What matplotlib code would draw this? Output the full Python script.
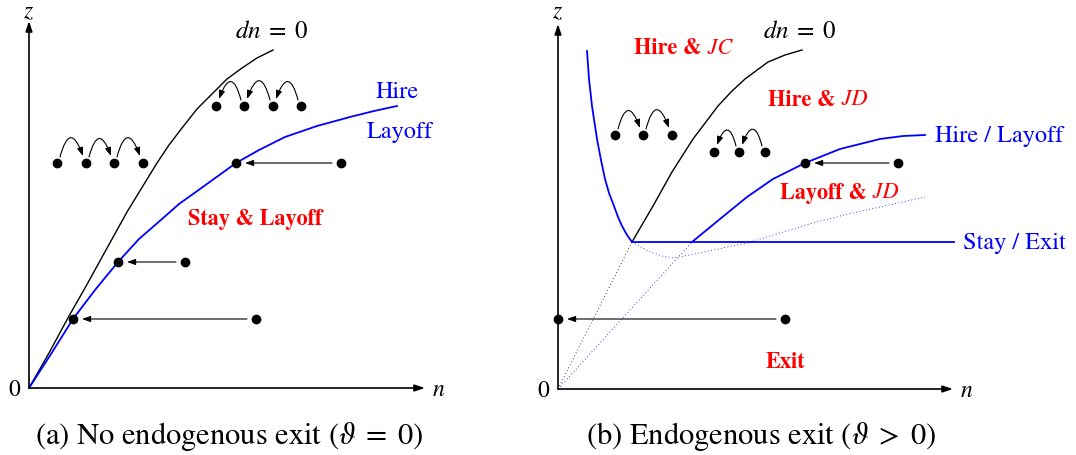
import matplotlib
matplotlib.use("Agg")
import matplotlib.pyplot as plt
from matplotlib.patches import FancyArrowPatch

plt.rcParams["font.family"] = ["STIXGeneral", "DejaVu Serif"]
plt.rcParams["mathtext.fontset"] = "stix"
plt.rcParams["lines.solid_joinstyle"] = "round"

# panel (a): no endogenous exit  (units: pixel-ish offsets from the origin)
a_dn_n = [0, 20, 40, 56, 72, 98, 128, 140, 153, 168, 184, 198, 213, 228, 244]
a_dn_z = [0, 35, 72, 100, 129, 176, 225, 243, 260, 279, 295, 309, 320, 330, 338]
a_hire_n = [0, 22, 44, 66, 89, 110, 133, 150, 171, 207, 230, 256, 288, 321, 345, 368]
a_hire_z = [0, 34, 69, 98, 126, 149, 169, 184, 199, 225, 238, 251, 262, 271, 277, 282]
a_hop_right_n = [28, 57, 85, 114]
a_hop_right_z = 225
a_hop_left_n = [187, 215, 244, 272]
a_hop_left_z = 282
a_move_from = [312, 156, 227]
a_move_to = [207, 89, 44]
a_move_z = [225, 126, 69]

# panel (b): endogenous exit
b_u_n = [29, 31, 34, 39, 43, 47, 51, 56, 60, 64, 69, 74]
b_u_z = [338, 310, 283, 250, 229, 210, 196, 183, 172, 163, 154, 147]
b_dn_n = [74, 95, 114, 135, 160, 173, 187, 210, 227, 244]
b_dn_z = [147, 183, 217, 250, 283, 297, 310, 327, 334, 339]
b_hl_n = [134, 162, 189, 215, 247, 282, 322, 345, 367]
b_hl_z = [147, 170, 192, 210, 226, 240, 250, 253, 254]
b_stay_n = [74, 396]
b_stay_z = [147, 147]
b_dot_n = [74, 90, 104, 115, 132, 160, 189, 222, 255, 290, 322, 367]
b_dot_z = [147, 138, 133, 131, 134, 140, 146, 156, 166, 175, 182, 192]
b_ray_black_n = [0, 74]
b_ray_black_z = [0, 147]
b_ray_blue_n = [0, 134]
b_ray_blue_z = [0, 147]
b_hop_right_n = [57, 85, 114]
b_hop_right_z = 254
b_hop_left_n = [156, 181, 207]
b_hop_left_z = 237
b_move_from = [340, 227]
b_move_to = [247, 0]
b_move_z = [226, 70]

BLUE = "#0000ff"
RED = "#ff0000"
FS_BLUE = 17.5
FS_RED = 16
FS_AX = 17

fig = plt.figure(figsize=(10.76, 4.56), dpi=100)
ax_a = fig.add_axes([0, 0, 540 / 1076, 1])
ax_b = fig.add_axes([540 / 1076, 0, 536 / 1076, 1])
ax_a.set_xlim(-29, 511)
ax_a.set_ylim(-67, 389)
ax_b.set_xlim(-18, 518)
ax_b.set_ylim(-66, 390)
for ax in (ax_a, ax_b):
    ax.set_axis_off()


def axes_arrows(ax, xend, yend, ztop):
    for end in [(xend, 0), (0, yend)]:
        ax.annotate("", xy=end, xytext=(0, 0),
                    arrowprops=dict(arrowstyle="-|>,head_length=0.6,head_width=0.2",
                                    lw=1.2, color="black", shrinkA=0, shrinkB=0,
                                    mutation_scale=10))
    ax.text(0, ztop, "$z$", fontsize=FS_AX, ha="center", va="top")
    ax.text(xend + 14, -1, "$n$", fontsize=FS_AX, ha="center", va="center")
    ax.text(-15, -1, "0", fontsize=FS_AX, ha="center", va="center")


def hops(ax, ns, z, leftward=False):
    ax.plot(ns, [z] * len(ns), "o", color="black", ms=6, zorder=5)
    for n0, n1 in zip(ns[:-1], ns[1:]):
        if leftward:
            start, end, rad = (n1 - 3, z + 6), (n0 + 3, z + 7), 1.6
        else:
            start, end, rad = (n0 + 3, z + 6), (n1 - 3, z + 7), -1.6
        ax.add_patch(FancyArrowPatch(start, end, connectionstyle=f"arc3,rad={rad}",
                                     arrowstyle="-|>,head_length=0.5,head_width=0.18",
                                     mutation_scale=10, lw=0.8, color="black",
                                     shrinkA=0, shrinkB=0))


def moves(ax, froms, tos, zs):
    for n0, n1, z in zip(froms, tos, zs):
        ax.plot([n0, n1], [z, z], "o", color="black", ms=6, zorder=5, clip_on=False)
        ax.annotate("", xy=(n1, z), xytext=(n0, z),
                    arrowprops=dict(arrowstyle="-|>,head_length=0.5,head_width=0.18",
                                    lw=0.8, color="black", shrinkA=6.5, shrinkB=6.5,
                                    mutation_scale=10))


def region(ax, x, y, bold, ital=None):
    t = ax.text(x, y, bold, fontsize=FS_RED, color=RED, fontweight="bold",
                ha="left", va="center")
    if ital:
        ax.annotate(" " + ital, xy=(1, 0.5), xycoords=t, fontsize=FS_RED, color=RED,
                    style="italic", ha="left", va="center")


# ---- panel (a)
axes_arrows(ax_a, 396, 367, 387)
ax_a.plot(a_dn_n, a_dn_z, color="black", lw=1.0)
ax_a.plot(a_hire_n, a_hire_z, color=BLUE, lw=1.3)
hops(ax_a, a_hop_right_n, a_hop_right_z)
hops(ax_a, a_hop_left_n, a_hop_left_z, leftward=True)
moves(ax_a, a_move_from, a_move_to, a_move_z)
ax_a.text(243, 357, r"$dn\;=\;0$", fontsize=18, ha="center", va="center")
ax_a.text(347, 297, "Hire", fontsize=FS_BLUE, color=BLUE, ha="left", va="center")
ax_a.text(338, 257, "Layoff", fontsize=FS_BLUE, color=BLUE, ha="left", va="center")
region(ax_a, 159, 170, "Stay & Layoff")

# ---- panel (b)
axes_arrows(ax_b, 395, 365, 388)
ax_b.plot(b_ray_black_n, b_ray_black_z, color="black", lw=0.6, ls=(0, (1, 3)))
ax_b.plot(b_ray_blue_n, b_ray_blue_z, color=BLUE, lw=0.6, ls=(0, (1, 3)))
ax_b.plot(b_dot_n, b_dot_z, color=BLUE, lw=0.6, ls=(0, (1, 3)))
ax_b.plot(b_u_n, b_u_z, color=BLUE, lw=1.3)
ax_b.plot(b_dn_n, b_dn_z, color="black", lw=1.0)
ax_b.plot(b_hl_n, b_hl_z, color=BLUE, lw=1.3)
ax_b.plot(b_stay_n, b_stay_z, color=BLUE, lw=1.3)
hops(ax_b, b_hop_right_n, b_hop_right_z)
hops(ax_b, b_hop_left_n, b_hop_left_z, leftward=True)
moves(ax_b, b_move_from, b_move_to, b_move_z)
ax_b.text(242, 358, r"$dn\;=\;0$", fontsize=18, ha="center", va="center")
region(ax_b, 76, 341, "Hire &", "JC")
region(ax_b, 210, 290, "Hire &", "JD")
region(ax_b, 222, 197, "Layoff &", "JD")
ax_b.text(227, 27, "Exit", fontsize=FS_RED, color=RED, fontweight="bold",
          ha="center", va="center")
ax_b.text(377, 254, "Hire / Layoff", fontsize=FS_BLUE, color=BLUE, ha="left", va="center")
ax_b.text(405, 147, "Stay / Exit", fontsize=FS_BLUE, color=BLUE, ha="left", va="center")

# ---- captions
fig.text(229 / 1076, 1 - 437 / 456, r"(a) No endogenous exit ($\vartheta\;=\;0$)",
         fontsize=22, ha="center", va="center")
fig.text(761 / 1076, 1 - 437 / 456, r"(b) Endogenous exit ($\vartheta\;>\;0$)",
         fontsize=22, ha="center", va="center")

fig.savefig("out.png", dpi=100)
